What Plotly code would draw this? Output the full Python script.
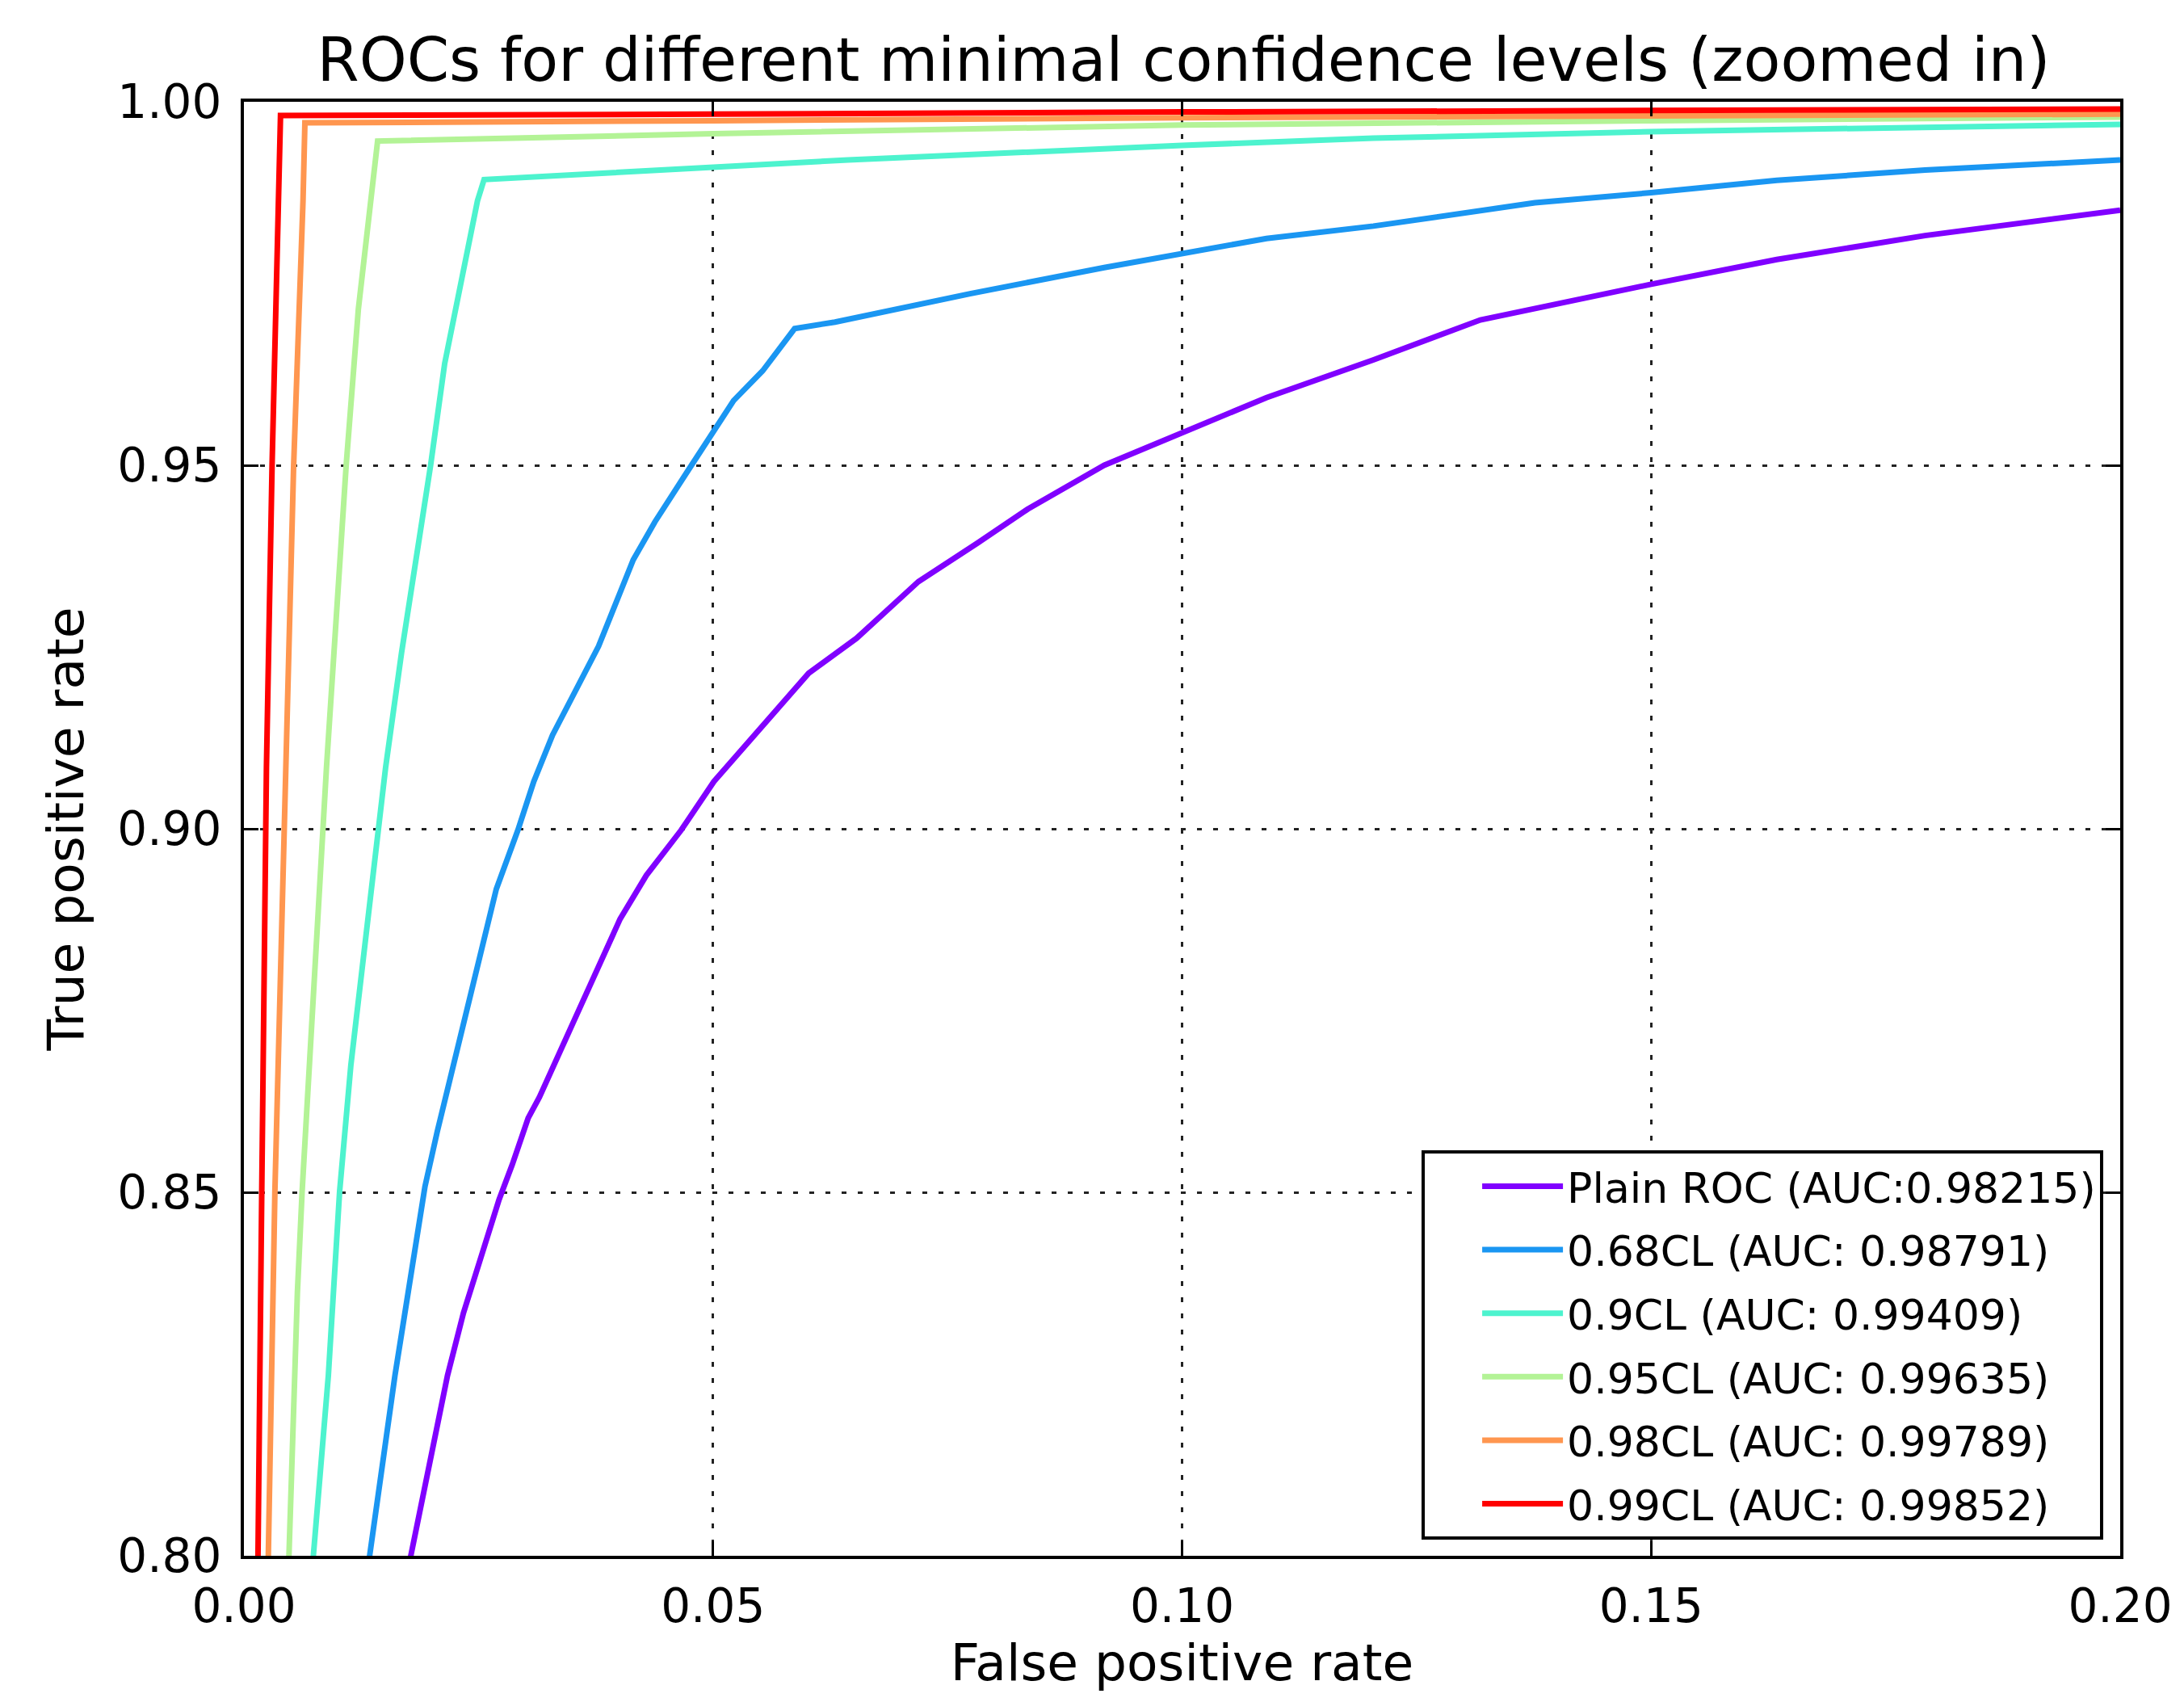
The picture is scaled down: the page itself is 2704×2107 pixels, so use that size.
import plotly.graph_objects as go

# ROC curves (false positive rate, true positive rate) per minimal confidence level
plain_fpr = [0.0170, 0.0178, 0.0217, 0.0234, 0.0255, 0.0272, 0.0286, 0.0303, 0.0315, 0.0332,
             0.0355, 0.0378, 0.0401, 0.0429, 0.0466, 0.0501, 0.0544, 0.0602, 0.0653, 0.0719,
             0.0782, 0.0837, 0.0917, 0.1000, 0.1090, 0.1204, 0.1318, 0.1500, 0.1634, 0.1792,
             0.2000]
plain_tpr = [0.7950, 0.8000, 0.8248, 0.8334, 0.8423, 0.8490, 0.8538, 0.8602, 0.8631, 0.8680,
             0.8747, 0.8810, 0.8876, 0.8936, 0.8998, 0.9065, 0.9129, 0.9214, 0.9262, 0.9340,
             0.9393, 0.9441, 0.9500, 0.9544, 0.9593, 0.9645, 0.9700, 0.9749, 0.9783, 0.9816,
             0.9851]

cl68_fpr = [0.0128, 0.0134, 0.0161, 0.0180, 0.0193, 0.0206, 0.0223, 0.0238, 0.0249, 0.0269,
            0.0292, 0.0309, 0.0329, 0.0343, 0.0358, 0.0378, 0.0415, 0.0438, 0.0472, 0.0500,
            0.0522, 0.0553, 0.0587, 0.0630, 0.0774, 0.0917, 0.1000, 0.1090, 0.1204, 0.1376,
            0.1500, 0.1634, 0.1792, 0.2000]
cl68_tpr = [0.7950, 0.8000, 0.8248, 0.8397, 0.8508, 0.8583, 0.8675, 0.8750, 0.8815, 0.8917,
            0.8998, 0.9065, 0.9129, 0.9165, 0.9203, 0.9251, 0.9370, 0.9422, 0.9490, 0.9545,
            0.9589, 0.9630, 0.9688, 0.9697, 0.9736, 0.9772, 0.9792, 0.9812, 0.9829, 0.9861,
            0.9875, 0.9892, 0.9906, 0.9920]

cl90_fpr = [0.0070, 0.0074, 0.0090, 0.0102, 0.0114, 0.0126, 0.0151, 0.0168, 0.0183, 0.0199,
            0.0214, 0.0230, 0.0249, 0.0256, 0.0500, 0.0644, 0.1000, 0.1204, 0.1500, 0.1792,
            0.2000]
cl90_tpr = [0.7950, 0.8000, 0.8248, 0.8501, 0.8675, 0.8806, 0.9084, 0.9242, 0.9367, 0.9500,
            0.9640, 0.9739, 0.9864, 0.9893, 0.9910, 0.9920, 0.9940, 0.9950, 0.9959, 0.9965,
            0.9969]

cl95_fpr = [0.0045, 0.0048, 0.0057, 0.0062, 0.0088, 0.0099, 0.0109, 0.0122, 0.0136, 0.01425,
            0.0500, 0.1000, 0.1500, 0.2000]
cl95_tpr = [0.7950, 0.8000, 0.8362, 0.8500, 0.9084, 0.9317, 0.9500, 0.9715, 0.9864, 0.9946,
            0.9956, 0.9968, 0.9974, 0.9979]

cl98_fpr = [0.0025, 0.0026, 0.0033, 0.0045, 0.0053, 0.0063, 0.0065, 0.0500, 0.1000, 0.2000]
cl98_tpr = [0.7950, 0.8000, 0.8500, 0.9084, 0.9500, 0.9864, 0.9971, 0.9974, 0.9978, 0.9983]

cl99_fpr = [0.0014, 0.0015, 0.0019, 0.0024, 0.0030, 0.0036, 0.0039, 0.0500, 0.1000, 0.2000]
cl99_tpr = [0.7950, 0.8000, 0.8500, 0.9084, 0.9500, 0.9864, 0.9981, 0.9983, 0.9986, 0.9990]

labels = ["Plain ROC (AUC:0.98215)", "0.68CL (AUC: 0.98791)", "0.9CL (AUC: 0.99409)",
          "0.95CL (AUC: 0.99635)", "0.98CL (AUC: 0.99789)", "0.99CL (AUC: 0.99852)"]
colors = ["#8000ff", "#1a96f2", "#4df3ce", "#b3f396", "#ff964f", "#ff0000"]
series = [(plain_fpr, plain_tpr), (cl68_fpr, cl68_tpr), (cl90_fpr, cl90_tpr),
          (cl95_fpr, cl95_tpr), (cl98_fpr, cl98_tpr), (cl99_fpr, cl99_tpr)]

x_ticks = [0.0, 0.05, 0.10, 0.15, 0.20]
y_ticks = [0.80, 0.85, 0.90, 0.95, 1.00]

FONT = "DejaVu Sans"

fig = go.Figure()
for i, ((fx, ty), name, col) in enumerate(zip(series, labels, colors)):
    fig.add_trace(go.Scatter(x=fx, y=ty, mode="lines", name=name,
                             legendgroup=f"g{i}",
                             line=dict(color=col, width=7)))

axis_common = dict(
    showline=True, linecolor="black", linewidth=4, mirror="allticks",
    ticks="inside", ticklen=18, tickwidth=3, tickcolor="black",
    showgrid=True, gridcolor="#222222", gridwidth=2.5, griddash="6px,14px",
    zeroline=False, tickfont=dict(family=FONT, size=58, color="black"),
)

fig.update_layout(
    width=2704, height=2107,
    margin=dict(l=302, r=79, t=126, b=181),
    paper_bgcolor="white", plot_bgcolor="white",
    font=dict(family=FONT, color="black"),
    title=dict(text="ROCs for different minimal confidence levels (zoomed in)",
               font=dict(family=FONT, size=75, color="black"),
               x=0.542, xanchor="center", y=0.965, yanchor="middle"),
    xaxis=dict(range=[0, 0.2], tickvals=x_ticks,
               ticktext=[f"{v:.2f}" for v in x_ticks], ticklabelstandoff=8,
               title=dict(text="False positive rate", font=dict(family=FONT, size=63), standoff=14),
               **axis_common),
    yaxis=dict(range=[0.8, 1.0], tickvals=y_ticks,
               ticktext=[f"{v:.2f}" for v in y_ticks], ticklabelstandoff=12,
               title=dict(text="True positive rate", font=dict(family=FONT, size=63), standoff=22),
               **axis_common),
    legend=dict(x=0.991, xanchor="right", y=0.011, yanchor="bottom",
                bgcolor="white", bordercolor="black", borderwidth=4,
                font=dict(family=FONT, size=52, color="black"),
                itemwidth=100, indentation=66, tracegroupgap=8),
    showlegend=True,
)

fig.write_html("out.html")
